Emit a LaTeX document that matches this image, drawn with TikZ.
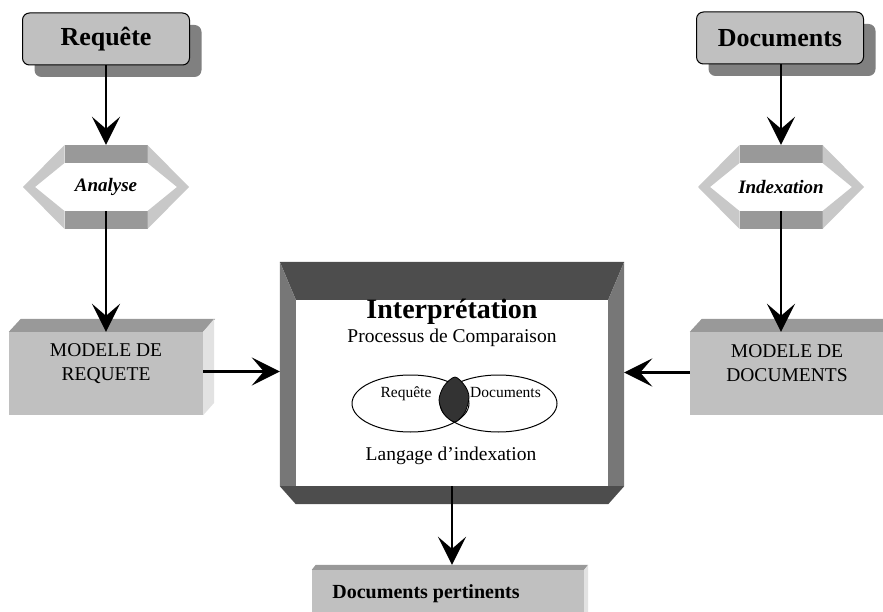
\documentclass[tikz,border=0pt]{standalone}
\usepackage{fontspec}
\setmainfont{Liberation Serif}
\usetikzlibrary{arrows.meta,shadows,calc,shapes.geometric}
\definecolor{boxgray}{HTML}{C0C0C0}
\definecolor{topgray}{HTML}{999999}
\definecolor{sidegray}{HTML}{E2E2E2}
\definecolor{shade}{HTML}{808080}
\definecolor{ringgray}{HTML}{C8C8C8}
\definecolor{framedark}{HTML}{4D4D4D}
\definecolor{framemid}{HTML}{777777}
\definecolor{blob}{HTML}{333333}
\tikzset{
  flow/.style={-{Stealth[length=28pt,width=28pt,inset=12pt]}, line width=2.6pt},
  titlebox/.style={draw, line width=1pt, rounded corners=7pt, fill=boxgray,
    minimum width=167pt, minimum height=52pt, inner sep=0pt,
    font=\fontsize{26}{30}\selectfont\bfseries,
    drop shadow={shadow xshift=12pt, shadow yshift=-12pt, fill=shade, opacity=1}},
  front/.style={fill=boxgray, inner sep=0pt},
  modtext/.style={align=center, font=\fontsize{19.5}{24}\selectfont},
  hextext/.style={minimum width=166pt, minimum height=84pt, inner sep=0pt,
    font=\fontsize{19}{22}\selectfont\bfseries\itshape},
  setshape/.style={draw, ellipse, line width=1pt, minimum width=117pt,
    minimum height=57pt, inner sep=0pt},
  settext/.style={anchor=base, font=\fontsize{15.5}{18}\selectfont},
  maintext/.style={anchor=base, font=\fontsize{19.5}{23}\selectfont}
}
\begin{document}
\begin{tikzpicture}[x=1pt, y=-1pt]
  \useasboundingbox (0,0) rectangle (883,612);
  \clip (0,0) rectangle (883,612);

  % sources
  \node[titlebox] (requete) at (106,39) {Requête};
  \node[titlebox] (docs) at (780,38) {Documents};

  % process hexagons
  \foreach \cx/\nm/\lab in {106/analyse/Analyse, 781/indexation/Indexation} {
    \fill[topgray] (\cx-41.5,145) rectangle (\cx+41.5,163);
    \fill[topgray] (\cx-41.5,211) rectangle (\cx+41.5,229);
    \fill[ringgray] (\cx-83,187) -- (\cx-41.5,145) -- (\cx-41.5,163) -- (\cx-71,187)
      -- (\cx-41.5,211) -- (\cx-41.5,229) -- cycle;
    \fill[ringgray] (\cx+83,187) -- (\cx+41.5,145) -- (\cx+41.5,163) -- (\cx+71,187)
      -- (\cx+41.5,211) -- (\cx+41.5,229) -- cycle;
    \node[hextext] (\nm) at (\cx,187) {\lab};
  }

  % models
  \node[front, minimum width=194pt, minimum height=83pt] (modreq) at (106,373.5) {};
  \fill[topgray] (modreq.north west) -- ++(12,-13) -- ($(modreq.north east)+(12,-13)$)
    -- (modreq.north east) -- cycle;
  \fill[sidegray] (modreq.north east) -- ++(11,-13) -- ++(0,84) -- (modreq.south east) -- cycle;
  \node[modtext] at ([yshift=10pt]modreq.center) {MODELE DE\\REQUETE};

  \node[front, minimum width=194pt, minimum height=83pt] (moddoc) at (787,373.5) {};
  \fill[topgray] (moddoc.north west) -- ++(12,-13) -- ($(moddoc.north east)+(12,-13)$)
    -- (moddoc.north east) -- cycle;
  \node[modtext] at ([yshift=10pt]moddoc.center) {MODELE DE\\DOCUMENTS};

  % comparison frame
  \node[minimum width=344pt, minimum height=242pt, inner sep=0pt, fill=white] (cmp) at (452,383) {};
  \fill[framedark] (cmp.north west) -- (cmp.north east) -- ++(-16,38)
    -- ($(cmp.north west)+(16,38)$) -- cycle;
  \fill[framemid] (cmp.north west) -- ++(16,38) -- ($(cmp.south west)+(16,-18)$)
    -- ($(cmp.south west)+(0,-18)$) -- cycle;
  \fill[framemid] (cmp.north east) -- ++(-16,38) -- ($(cmp.south east)+(-16,-18)$)
    -- ($(cmp.south east)+(0,-18)$) -- cycle;
  \fill[framedark] ($(cmp.south west)+(0,-18)$) -- ($(cmp.south east)+(0,-18)$)
    -- ($(cmp.south east)+(-16,0)$) -- ($(cmp.south west)+(16,0)$) -- cycle;
  \node[anchor=base, font=\fontsize{28}{32}\selectfont\bfseries] (interp) at (452,318) {Interprétation};
  \node[maintext] (proc) at (452,342) {Processus de Comparaison};
  \node[setshape] (setreq) at (410.5,403.5) {};
  \node[setshape] (setdoc) at (498.5,403.5) {};
  \fill[blob, draw=black, line width=0.8pt] plot[smooth cycle] coordinates
    {(455,377) (465,386) (469,397) (465,412) (455,422) (444,414) (439,400) (444,386)};
  \node[settext] at (406,397) {Requête};
  \node[settext] at (505.5,397) {Documents};
  \node[maintext] (lang) at (451,460) {Langage d’indexation};

  % result
  \node[front, minimum width=272pt, minimum height=50pt] (pert) at (448,595) {};
  \fill[topgray] (pert.north west) -- ++(4,-5) -- ($(pert.north east)+(4,-5)$)
    -- (pert.north east) -- cycle;
  \fill[sidegray] (pert.north east) -- ++(4,-5) -- ++(0,60) -- (pert.south east) -- cycle;
  \node[anchor=base, font=\fontsize{20}{24}\selectfont\bfseries] at (426,598) {Documents pertinents};

  % connectors
  \draw[flow] (requete.south) -- (analyse.north);
  \draw[flow] ([yshift=18pt]analyse.south) -- (analyse.south |- modreq.north);
  \draw[flow] (docs.south -| indexation.north) -- (indexation.north);
  \draw[flow] ([yshift=18pt]indexation.south) -- (indexation.south |- moddoc.north);
  \draw[flow] ([yshift=2pt]modreq.east) -- ([yshift=2pt]modreq.east -| cmp.west);
  \draw[flow] ([yshift=1pt]moddoc.west) -- ([yshift=1pt]moddoc.west -| cmp.east);
  \draw[flow] ([yshift=18pt]cmp.south) -- ($(cmp.south |- pert.north)+(0,-5)$);
\end{tikzpicture}
\end{document}
